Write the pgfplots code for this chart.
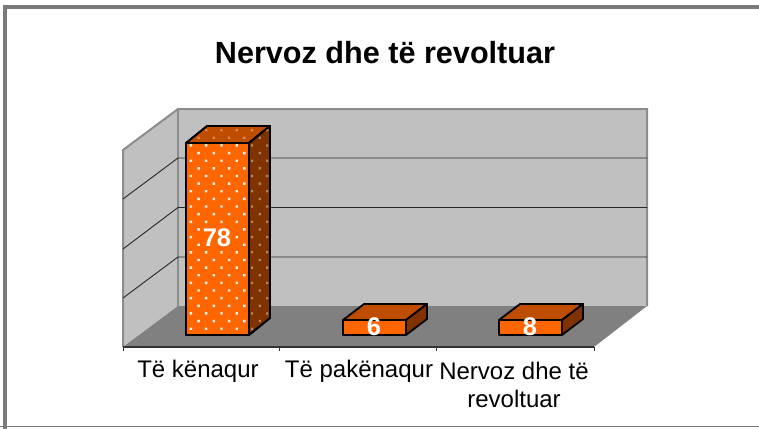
\documentclass[border=0pt]{standalone}
\usepackage{fontspec}
\setmainfont{Liberation Sans}
\usepackage{pgfplots}
\pgfplotsset{compat=1.18}
\usetikzlibrary{patterns.meta}
\definecolor{wall}{HTML}{C0C0C0}
\definecolor{floorgray}{HTML}{808080}
\definecolor{edgegray}{HTML}{8C8C8C}
\definecolor{barfront}{HTML}{FF6600}
\definecolor{bartop}{HTML}{BF4D00}
\definecolor{barside}{HTML}{803300}
\definecolor{framegray}{HTML}{7A7A7A}
\tikzset{
 frontdots/.style={postaction={pattern={Dots[distance=10.8pt,radius=1.7pt,angle=45]},pattern color=white!92!barfront}},
 topdots/.style={postaction={pattern={Dots[distance=10.8pt,radius=1.6pt,angle=45]},pattern color=white!35!bartop}},
 sidedots/.style={postaction={pattern={Dots[distance=10.8pt,radius=1.6pt,angle=45]},pattern color=white!40!barside}},
}
\begin{document}
\begin{tikzpicture}
\begin{axis}[
 scale only axis,width=759pt,height=428pt,
 xmin=0,xmax=759,ymin=0,ymax=428,y dir=reverse,
 hide axis,
]
% page and frame
\addplot[draw=none,fill=white] coordinates {(0,0)(759,0)(759,428)(0,428)} --cycle;
\addplot[framegray,line width=4pt] coordinates {(5,430)(5,7.5)(762,7.5)};
\addplot[framegray,line width=1.2pt] coordinates {(0,426.5)(759,426.5)};
% walls and floor
\addplot[draw=none,fill=wall] coordinates {(178,109)(647,109)(647,306)(178,306)} --cycle;
\addplot[draw=none,fill=wall] coordinates {(123,150)(178,109)(178,306)(123,347)} --cycle;
\addplot[draw=none,fill=floorgray] coordinates {(123,347)(178,306)(647,306)(594,347)} --cycle;
\addplot[edgegray,line width=2pt] coordinates {(123,347)(123,150)(178,109)(647,109)(647,306)};
\addplot[edgegray,line width=2pt] coordinates {(178,109)(178,306)};
% gridlines, 20 units apart
\addplot[black!85,line width=0.9pt] coordinates {(123,298)(178,257)(647,257)};
\addplot[black!85,line width=0.9pt] coordinates {(123,249)(178,207.5)(647,207.5)};
\addplot[black!85,line width=0.9pt] coordinates {(123,199)(178,158)(647,158)};
% axis line and ticks
\addplot[black!80,line width=1.2pt] coordinates {(123,347)(594,347)};
\addplot[black!80,line width=1pt] coordinates {(123,347)(123,351)};
\addplot[black!80,line width=1pt] coordinates {(279,347)(279,351)};
\addplot[black!80,line width=1pt] coordinates {(436,347)(436,351)};
\addplot[black!80,line width=1pt] coordinates {(594,347)(594,351)};
% bar 78
\addplot[black,line width=1.8pt,line join=round,fill=barfront,frontdots] coordinates {(186,143)(249,143)(249,335)(186,335)} --cycle;
\addplot[black,line width=1.8pt,line join=round,fill=bartop,topdots] coordinates {(186,143)(207,126)(270,126)(249,143)} --cycle;
\addplot[black,line width=1.8pt,line join=round,fill=barside,sidedots] coordinates {(249,143)(270,126)(270,318)(249,335)} --cycle;
% bar 6
\addplot[black,line width=1.8pt,line join=round,fill=barfront] coordinates {(343,320)(406,320)(406,335)(343,335)} --cycle;
\addplot[black,line width=1.8pt,line join=round,fill=bartop] coordinates {(343,320)(364,304)(427,304)(406,320)} --cycle;
\addplot[black,line width=1.8pt,line join=round,fill=barside] coordinates {(406,320)(427,304)(427,319)(406,335)} --cycle;
% bar 8
\addplot[black,line width=1.8pt,line join=round,fill=barfront] coordinates {(499,320)(562,320)(562,335)(499,335)} --cycle;
\addplot[black,line width=1.8pt,line join=round,fill=bartop] coordinates {(499,320)(520,304)(583,304)(562,320)} --cycle;
\addplot[black,line width=1.8pt,line join=round,fill=barside] coordinates {(562,320)(583,304)(583,319)(562,335)} --cycle;
% texts
\node[font=\fontsize{30.6}{33}\selectfont\bfseries] at (axis cs:385,53) {Nervoz dhe të revoltuar};
\node[font=\fontsize{25.5}{28}\selectfont\bfseries,text=white,fill=barfront,inner sep=1pt] at (axis cs:217,238) {78};
\node[font=\fontsize{25.5}{28}\selectfont\bfseries,text=white] at (axis cs:374,327) {6};
\node[font=\fontsize{25.5}{28}\selectfont\bfseries,text=white] at (axis cs:530,327) {8};
\node[font=\fontsize{24}{28}\selectfont] at (axis cs:198,371) {Të kënaqur};
\node[font=\fontsize{24}{28}\selectfont] at (axis cs:359,371) {Të pakënaqur};
\node[font=\fontsize{24}{28}\selectfont,align=center] at (axis cs:514,384.5) {Nervoz dhe të\\revoltuar};
\end{axis}
\end{tikzpicture}
\end{document}
